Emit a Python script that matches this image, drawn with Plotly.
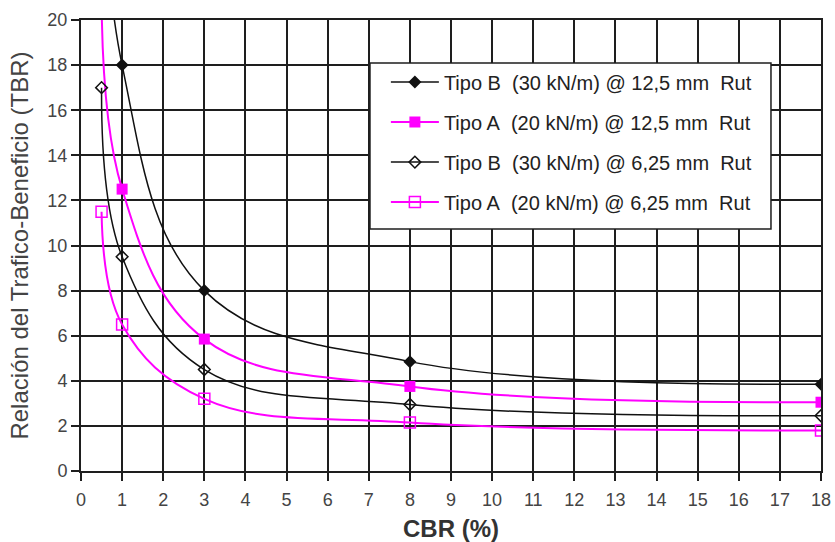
import plotly.graph_objects as go

# CBR (%) values where the TBR was evaluated
cbr = [0.5, 1, 3, 8, 18]

# Traffic-benefit ratio for each geogrid / rut depth combination
tbr_b_125 = [32.0, 18.0, 8.0, 4.85, 3.85]
tbr_a_125 = [22.0, 12.5, 5.85, 3.75, 3.05]
tbr_b_625 = [17.0, 9.5, 4.5, 2.95, 2.45]
tbr_a_625 = [11.5, 6.5, 3.2, 2.15, 1.8]

names = [
    "Tipo B\u00a0\u00a0(30 kN/m) @ 12,5 mm\u00a0\u00a0Rut",
    "Tipo A\u00a0\u00a0(20 kN/m) @ 12,5 mm\u00a0\u00a0Rut",
    "Tipo B\u00a0\u00a0(30 kN/m) @ 6,25 mm\u00a0\u00a0Rut",
    "Tipo A\u00a0\u00a0(20 kN/m) @ 6,25 mm\u00a0\u00a0Rut",
]

x_ticks = list(range(0, 19))
y_ticks = list(range(0, 21, 2))

BLACK = "#111111"
MAGENTA = "#ff00ff"
GRID = "rgb(30,30,30)"
FONT = "Liberation Sans, Arial, sans-serif"

series = [
    (tbr_b_125, BLACK, 1.5, dict(symbol="diamond", size=10, color=BLACK)),
    (tbr_a_125, MAGENTA, 2, dict(symbol="square", size=11, color=MAGENTA)),
    (tbr_b_625, BLACK, 1.5, dict(symbol="diamond-open", size=9, color=BLACK,
                                 line=dict(width=1.5, color=BLACK))),
    (tbr_a_625, MAGENTA, 2, dict(symbol="square-open", size=11, color=MAGENTA,
                                 line=dict(width=1.5, color=MAGENTA))),
]

fig = go.Figure()
for i, (vals, color, width, marker) in enumerate(series):
    fig.add_trace(go.Scatter(
        x=cbr, y=vals, name=names[i], legendgroup=f"g{i}",
        mode="lines+markers",
        line=dict(color=color, width=width, shape="spline", smoothing=1.1),
        marker=marker,
    ))

axis_common = dict(
    showgrid=True, gridcolor=GRID, gridwidth=2,
    showline=True, linecolor=GRID, linewidth=2, mirror=True,
    ticks="outside", ticklen=8, tickwidth=2, tickcolor=GRID,
    tickfont=dict(family=FONT, size=18, color="#444444"),
    zeroline=False, automargin=False,
)

# framed box behind the legend entries
legend_box = dict(
    type="rect", xref="paper", yref="paper",
    x0=0.3905, x1=0.9324, y0=0.5366, y1=0.9047,
    fillcolor="white", line=dict(color=GRID, width=1.5), layer="above",
)

fig.update_layout(
    width=835, height=542,
    margin=dict(l=81, r=14, t=20, b=71),
    paper_bgcolor="white", plot_bgcolor="white",
    showlegend=True,
    shapes=[legend_box],
    xaxis=dict(
        range=[0, 18], tickvals=x_ticks, ticktext=[str(v) for v in x_ticks],
        ticklabelstandoff=3,
        title=dict(text="<b>CBR (%)</b>", font=dict(family=FONT, size=24, color="#333333"),
                   standoff=21),
        **axis_common,
    ),
    yaxis=dict(
        range=[0, 20], tickvals=y_ticks, ticktext=[str(v) for v in y_ticks],
        title=dict(text="Relación del Trafico-Beneficio (TBR)",
                   font=dict(family=FONT, size=24, color="#444444"), standoff=12),
        **axis_common,
    ),
    legend=dict(
        x=0.412, y=0.9055, xanchor="left", yanchor="top",
        bgcolor="rgba(0,0,0,0)", borderwidth=0,
        font=dict(family=FONT, size=20, color="#222222"),
        tracegroupgap=11, itemwidth=48,
    ),
)

fig.write_html("out.html")
